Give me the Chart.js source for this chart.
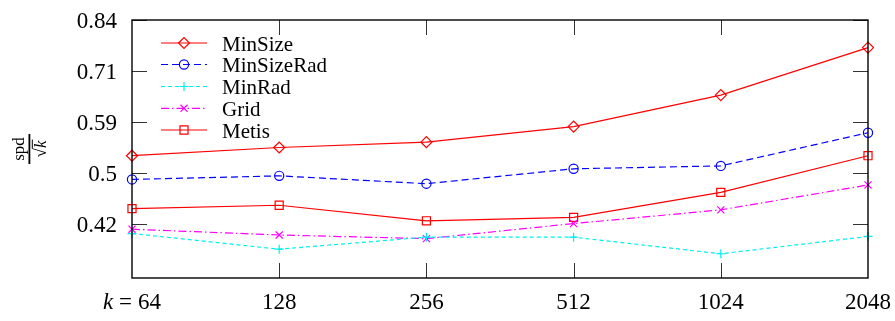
<!DOCTYPE html>
<html>
<head>
<meta charset="utf-8">
<script src="https://cdn.jsdelivr.net/npm/chart.js@4.4.0/dist/chart.umd.min.js"></script>
<style>
  html, body { margin: 0; padding: 0; background: #fff; }
</style>
</head>
<body>
<canvas id="chart" width="895" height="321"></canvas>
<script>
// values (log-scale y axis)
const categories = ['64', '128', '256', '512', '1024', '2048'];
const minSize    = [0.530, 0.545, 0.555, 0.585, 0.651, 0.765];
const minSizeRad = [0.489, 0.495, 0.482, 0.507, 0.512, 0.573];
const minRad     = [0.407, 0.386, 0.402, 0.402, 0.380, 0.403];
const grid       = [0.413, 0.405, 0.400, 0.421, 0.441, 0.480];
const metis      = [0.443, 0.448, 0.425, 0.430, 0.468, 0.530];
const yTicks      = [0.42, 0.4995, 0.594, 0.7064, 0.84];
const yTickLabels = ['0.42', '0.5', '0.59', '0.71', '0.84'];
const yMin = 0.3532, yMax = 0.84;

const SERIF = '"Liberation Serif", "DejaVu Serif", serif';

function series(label, data, color, style, radius, dash) {
    return {
        label, data,
        borderColor: color, borderWidth: 1.2, borderDash: dash,
        pointStyle: style, pointRadius: radius, pointBorderWidth: 1.2,
        pointBorderColor: color, pointBackgroundColor: 'rgba(0,0,0,0)',
        tension: 0, clip: false, fill: false
    };
}

function drawMarker(ctx, style, x, y, r) {
    ctx.beginPath();
    if (style === 'rectRot') {
        ctx.moveTo(x - r, y); ctx.lineTo(x, y - r); ctx.lineTo(x + r, y); ctx.lineTo(x, y + r); ctx.closePath();
    } else if (style === 'circle') {
        ctx.arc(x, y, r, 0, Math.PI * 2);
    } else if (style === 'cross') {
        ctx.moveTo(x - r, y); ctx.lineTo(x + r, y); ctx.moveTo(x, y - r); ctx.lineTo(x, y + r);
    } else if (style === 'crossRot') {
        const d = r * Math.SQRT1_2;
        ctx.moveTo(x - d, y - d); ctx.lineTo(x + d, y + d); ctx.moveTo(x - d, y + d); ctx.lineTo(x + d, y - d);
    } else if (style === 'rect') {
        const s = r * Math.SQRT1_2;
        ctx.rect(x - s, y - s, 2 * s, 2 * s);
    }
    ctx.stroke();
}

const framePlugin = {
    id: 'frame',
    afterDatasetsDraw(chart) {
        const { ctx, chartArea: a, scales: { x, y } } = chart;
        ctx.save();

        // inward ticks
        ctx.strokeStyle = '#333';
        ctx.lineWidth = 1;
        ctx.setLineDash([]);
        const tl = 15;
        for (let i = 1; i < categories.length - 1; i++) {
            const px = Math.round(x.getPixelForValue(i)) + 0.5;
            ctx.beginPath();
            ctx.moveTo(px, a.top); ctx.lineTo(px, a.top + tl);
            ctx.moveTo(px, a.bottom); ctx.lineTo(px, a.bottom - tl);
            ctx.stroke();
        }
        yTicks.forEach(v => {
            const py = Math.round(y.getPixelForValue(v)) + 0.5;
            ctx.beginPath();
            ctx.moveTo(a.left, py); ctx.lineTo(a.left + tl, py);
            ctx.moveTo(a.right, py); ctx.lineTo(a.right - tl, py);
            ctx.stroke();
        });

        // frame
        ctx.strokeStyle = '#000';
        ctx.lineWidth = 1.4;
        ctx.strokeRect(a.left, a.top, a.right - a.left, a.bottom - a.top);

        // y tick labels
        ctx.fillStyle = '#000';
        ctx.font = '23px ' + SERIF;
        ctx.textAlign = 'right';
        ctx.textBaseline = 'alphabetic';
        yTicks.forEach((v, i) => {
            ctx.fillText(yTickLabels[i], 117, y.getPixelForValue(v) + 7.5);
        });

        // x tick labels
        const base = 309;
        categories.forEach((c, i) => {
            const px = x.getPixelForValue(i);
            if (i === 0) {
                ctx.font = 'italic 23px ' + SERIF;
                const wk = ctx.measureText('k').width;
                ctx.font = '23px ' + SERIF;
                const we = ctx.measureText('=').width;
                const wn = ctx.measureText(c).width;
                const gap = 6;
                let sx = px - (wk + gap + we + gap + wn) / 2;
                ctx.textAlign = 'left';
                ctx.font = 'italic 23px ' + SERIF;
                ctx.fillText('k', sx, base);
                ctx.font = '23px ' + SERIF;
                ctx.fillText('=', sx + wk + gap, base);
                ctx.fillText(c, sx + wk + gap + we + gap, base);
            } else {
                ctx.font = '23px ' + SERIF;
                ctx.textAlign = 'center';
                ctx.fillText(c, px, base);
            }
        });

        // y axis title: spd / sqrt(k), rotated
        ctx.save();
        ctx.translate(30, 149);
        ctx.rotate(-Math.PI / 2);
        ctx.textAlign = 'center';
        ctx.font = '17px ' + SERIF;
        ctx.fillText('spd', 0, -6);
        ctx.fillRect(-15, -1.5, 30, 1.8);
        ctx.textAlign = 'left';
        const ws = ctx.measureText('\u221A').width;
        ctx.font = 'italic 17px ' + SERIF;
        const wk2 = ctx.measureText('k').width;
        const sx2 = -(ws + wk2) / 2;
        ctx.font = '17px ' + SERIF;
        ctx.fillText('\u221A', sx2, 16);
        ctx.font = 'italic 17px ' + SERIF;
        ctx.fillText('k', sx2 + ws, 16);
        ctx.fillRect(sx2 + ws - 0.5, 1.8, wk2 + 1.5, 1);
        ctx.restore();

        // legend
        const rowY = [43, 64.5, 86.5, 108.3, 130];
        chart.data.datasets.forEach((ds, i) => {
            const ry = rowY[i];
            ctx.strokeStyle = ds.borderColor;
            ctx.lineWidth = 1.2;
            ctx.setLineDash(ds.borderDash || []);
            ctx.beginPath();
            ctx.moveTo(161, ry); ctx.lineTo(207, ry);
            ctx.stroke();
            ctx.setLineDash([]);
            drawMarker(ctx, ds.pointStyle, 184, ry, ds.pointRadius);
            ctx.fillStyle = '#000';
            ctx.font = '21px ' + SERIF;
            ctx.textAlign = 'left';
            ctx.fillText(ds.label, 222, ry + 7.5);
        });

        ctx.restore();
    }
};

new Chart(document.getElementById('chart'), {
    type: 'line',
    data: {
        labels: categories,
        datasets: [
            series('MinSize', minSize, '#ff0000', 'rectRot', 5.5, []),
            series('MinSizeRad', minSizeRad, '#0000ff', 'circle', 4.6, [7, 4]),
            series('MinRad', minRad, '#00f0f0', 'cross', 4.5, [4, 3]),
            series('Grid', grid, '#ff00ff', 'crossRot', 5, [8, 3, 1.5, 3]),
            series('Metis', metis, '#ff0000', 'rect', 5.7, [])
        ]
    },
    options: {
        responsive: false,
        animation: false,
        devicePixelRatio: 1,
        layout: { padding: { left: 132, right: 27, top: 20, bottom: 43 } },
        plugins: { legend: { display: false }, tooltip: { enabled: false } },
        scales: {
            x: { type: 'category', offset: false, display: false },
            y: { type: 'logarithmic', min: yMin, max: yMax, display: false }
        }
    },
    plugins: [framePlugin]
});
</script>
</body>
</html>
